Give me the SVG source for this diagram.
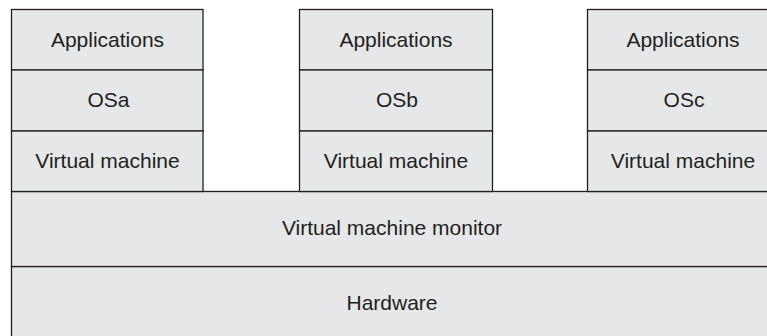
<svg xmlns="http://www.w3.org/2000/svg" width="767" height="336" viewBox="0 0 767 336">
<style>
.box{fill:#e6e7e8;stroke:#231f20;stroke-width:1.3}
.lbl{font-family:"Liberation Sans",Arial,Helvetica,sans-serif;font-size:21px;fill:#231f20;text-anchor:middle}
</style>
<rect width="767" height="336" fill="#ffffff"/>
<g id="hardware">
<rect class="box" x="11.5" y="266.5" width="770" height="80"/>
<text class="lbl" x="392" y="310">Hardware</text>
</g>
<g id="vmm">
<rect class="box" x="11.5" y="191.5" width="770" height="75"/>
<text class="lbl" x="392" y="235">Virtual machine monitor</text>
</g>
<g id="app-a">
<rect class="box" x="11.5" y="9.5" width="191.5" height="60.5"/>
<text class="lbl" x="107.5" y="47">Applications</text>
</g>
<g id="os-a">
<rect class="box" x="11.5" y="70" width="191.5" height="61"/>
<text class="lbl" x="108.5" y="106.7">OSa</text>
</g>
<g id="vm-a">
<rect class="box" x="11.5" y="131" width="191.5" height="60.5"/>
<text class="lbl" x="107.5" y="168.3">Virtual machine</text>
</g>
<g id="app-b">
<rect class="box" x="299.5" y="9.5" width="193" height="60.5"/>
<text class="lbl" x="396" y="47">Applications</text>
</g>
<g id="os-b">
<rect class="box" x="299.5" y="70" width="193" height="61"/>
<text class="lbl" x="397" y="106.7">OSb</text>
</g>
<g id="vm-b">
<rect class="box" x="299.5" y="131" width="193" height="60.5"/>
<text class="lbl" x="396" y="168.3">Virtual machine</text>
</g>
<g id="app-c">
<rect class="box" x="587.5" y="9.5" width="195" height="60.5"/>
<text class="lbl" x="683" y="47">Applications</text>
</g>
<g id="os-c">
<rect class="box" x="587.5" y="70" width="195" height="61"/>
<text class="lbl" x="684" y="106.7">OSc</text>
</g>
<g id="vm-c">
<rect class="box" x="587.5" y="131" width="195" height="60.5"/>
<text class="lbl" x="683" y="168.3">Virtual machine</text>
</g>
<g id="connectors"></g>
</svg>
